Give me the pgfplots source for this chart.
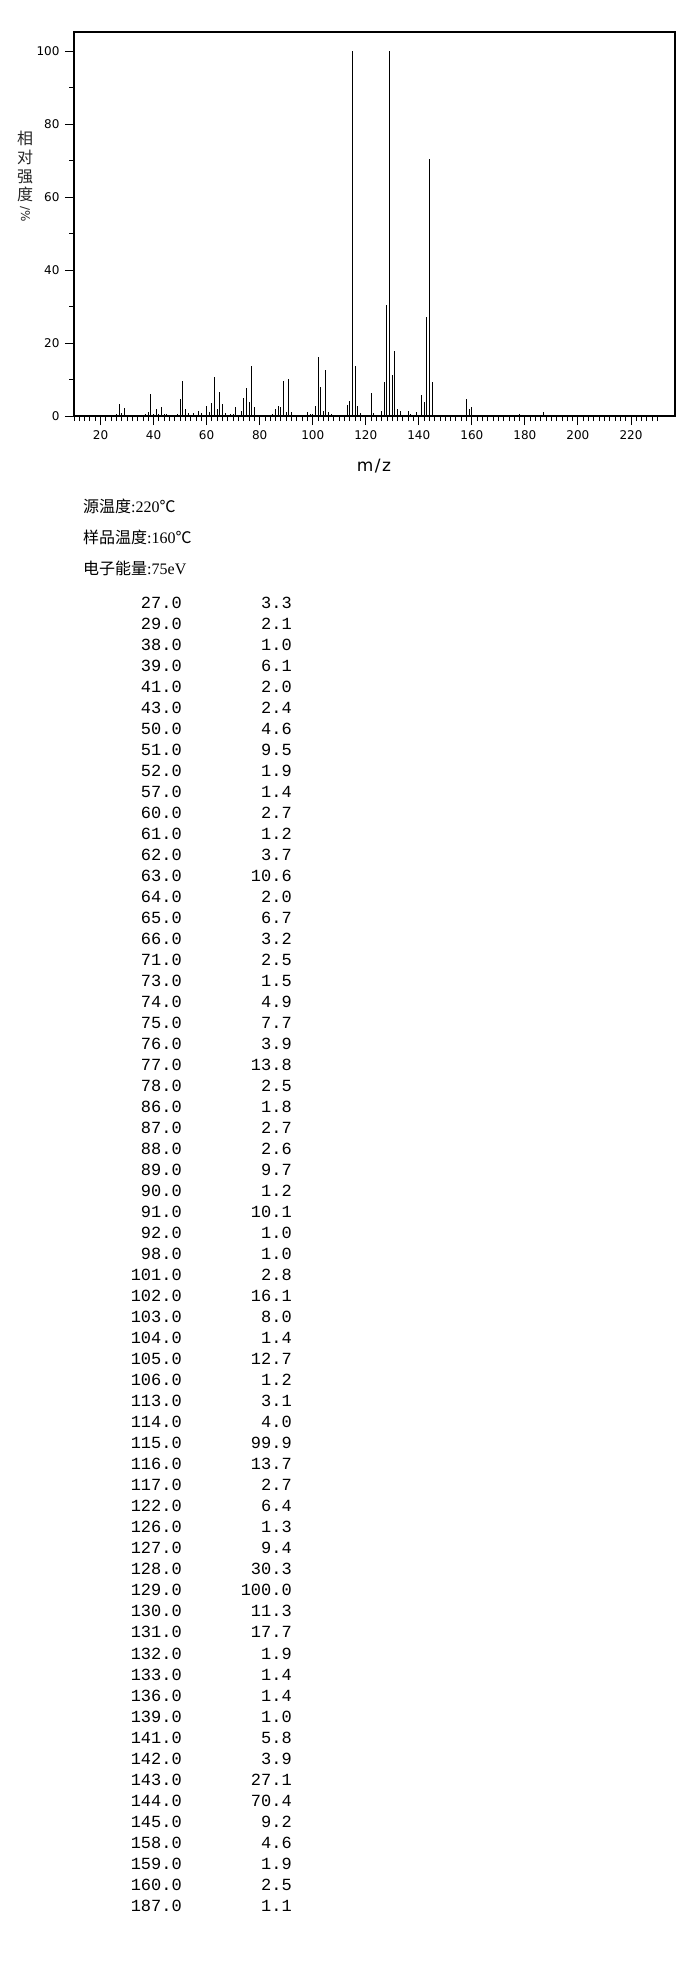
\documentclass[border=0pt]{standalone}
\usepackage{pgfplots}
\pgfplotsset{compat=1.18}
\usepackage{fontspec}
\setmainfont{Liberation Serif}
\newfontfamily\cjk{Noto Sans CJK SC}
\newfontfamily\ticksf{DejaVu Sans}
\newfontfamily\mono{Liberation Mono}

\begin{document}
\begin{tikzpicture}
\useasboundingbox (0,0) rectangle (687bp,-1984bp);

\begin{axis}[
    at={(74bp,-416bp)}, anchor=south west,
    scale only axis,
    width=601bp, height=384bp,
    xmin=10, xmax=236.6,
    ymin=0, ymax=105.2,
    axis line style={line width=1.1bp},
    tick style={black, line width=0.9bp},
    tick align=outside,
    xtick pos=lower, ytick pos=left,
    major tick length=9bp, minor tick length=5bp,
    xtick={20,40,...,220},
    minor xtick={10,12,...,230},
    ytick={0,20,...,100},
    minor ytick={10,30,...,90},
    ticklabel style={font=\ticksf\fontsize{12bp}{14bp}\selectfont},
    /pgf/number format/assume math mode=true,
    xticklabel style={yshift=-2bp},
    yticklabel style={xshift=-2bp},
]
\addplot[ycomb, black, line width=1bp, mark=none] coordinates {
(15,0.3) (26,0.6) (27,3.3) (28,0.9) (29,2.1) (31,0.3) (37,0.5) (38,1.0)
(39,6.1) (40,0.6) (41,2.0) (42,0.5) (43,2.4) (44,0.6) (45,0.6) (47,0.3)
(49,0.6) (50,4.6) (51,9.5) (52,1.9) (53,0.7) (54,0.3) (55,0.8) (56,0.4)
(57,1.4) (58,0.8) (59,0.3) (60,2.7) (61,1.2) (62,3.7) (63,10.6) (64,2.0)
(65,6.7) (66,3.2) (67,0.8) (68,0.3) (69,0.6) (70,0.6) (71,2.5) (72,0.4)
(73,1.5) (74,4.9) (75,7.7) (76,3.9) (77,13.8) (78,2.5) (79,0.4) (81,0.3)
(82,0.3) (83,0.3) (84,0.3) (85,0.6) (86,1.8) (87,2.7) (88,2.6) (89,9.7)
(90,1.2) (91,10.1) (92,1.0) (93,0.3) (94,0.3) (95,0.3) (97,0.3) (98,1.0)
(99,0.5) (100,0.5) (101,2.8) (102,16.1) (103,8.0) (104,1.4) (105,12.7) (106,1.2)
(107,0.5) (108,0.3) (109,0.3) (110,0.4) (111,0.3) (112,0.3) (113,3.1) (114,4.0)
(115,99.9) (116,13.7) (117,2.7) (118,0.8) (119,0.4) (120,0.4) (121,0.4) (122,6.4)
(123,0.8) (124,0.3) (125,0.3) (126,1.3) (127,9.4) (128,30.3) (129,100.0) (130,11.3)
(131,17.7) (132,1.9) (133,1.4) (134,0.4) (135,0.3) (136,1.4) (137,0.5) (138,0.4)
(139,1.0) (140,0.3) (141,5.8) (142,3.9) (143,27.1) (144,70.4) (145,9.2) (146,0.4)
(147,0.3) (148,0.3) (149,0.3) (150,0.3) (157,0.4) (158,4.6) (159,1.9) (160,2.5)
(161,0.3) (162,0.3) (171,0.4) (172,0.3) (173,0.3) (176,0.3) (177,0.3) (178,0.5)
(179,0.3) (187,1.1) (188,0.2) (201,0.3) (202,0.3) (211,0.3) (215,0.3) (216,0.3)
};
\end{axis}

% y label: stacked characters, then rotated "/%"
\node[anchor=north, inner sep=0, align=center, text=black!85,
      font=\cjk\fontsize{16bp}{18.7bp}\selectfont] at (25bp,-131bp) {相\\对\\强\\度};
\node[anchor=west, inner sep=0, rotate=-90, text=black!85,
      font=\ticksf\fontsize{12bp}{14bp}\selectfont] at (25bp,-206bp) {/\%};
% x label
\node[inner sep=0, font=\ticksf\fontsize{17bp}{20bp}\selectfont] at (374bp,-466bp) {m\kern1.5bp/\kern1.5bp z};

% run conditions
\begin{scope}[every node/.style={anchor=base west, inner sep=0, font=\fontsize{16bp}{18bp}\selectfont}]
\node at (83bp,-512bp) {{\cjk 源温度}:220{\cjk ℃}};
\node at (83bp,-543bp) {{\cjk 样品温度}:160{\cjk ℃}};
\node at (83bp,-574bp) {{\cjk 电子能量}:75eV};
\end{scope}

% peak list
\foreach \m/\v [count=\i] in {
27.0/3.3, 29.0/2.1, 38.0/1.0, 39.0/6.1, 41.0/2.0, 43.0/2.4, 50.0/4.6,
51.0/9.5, 52.0/1.9, 57.0/1.4, 60.0/2.7, 61.0/1.2, 62.0/3.7, 63.0/10.6,
64.0/2.0, 65.0/6.7, 66.0/3.2, 71.0/2.5, 73.0/1.5, 74.0/4.9, 75.0/7.7,
76.0/3.9, 77.0/13.8, 78.0/2.5, 86.0/1.8, 87.0/2.7, 88.0/2.6, 89.0/9.7,
90.0/1.2, 91.0/10.1, 92.0/1.0, 98.0/1.0, 101.0/2.8, 102.0/16.1, 103.0/8.0,
104.0/1.4, 105.0/12.7, 106.0/1.2, 113.0/3.1, 114.0/4.0, 115.0/99.9, 116.0/13.7,
117.0/2.7, 122.0/6.4, 126.0/1.3, 127.0/9.4, 128.0/30.3, 129.0/100.0, 130.0/11.3,
131.0/17.7, 132.0/1.9, 133.0/1.4, 136.0/1.4, 139.0/1.0, 141.0/5.8, 142.0/3.9,
143.0/27.1, 144.0/70.4, 145.0/9.2, 158.0/4.6, 159.0/1.9, 160.0/2.5, 187.0/1.1}
{
  \node[anchor=base east, inner sep=0, font=\mono\fontsize{17bp}{20bp}\selectfont]
    at (182bp,{-(608+21.02*(\i-1))*1bp}) {\m};
  \node[anchor=base east, inner sep=0, font=\mono\fontsize{17bp}{20bp}\selectfont]
    at (292bp,{-(608+21.02*(\i-1))*1bp}) {\v};
}
\end{tikzpicture}
\end{document}
